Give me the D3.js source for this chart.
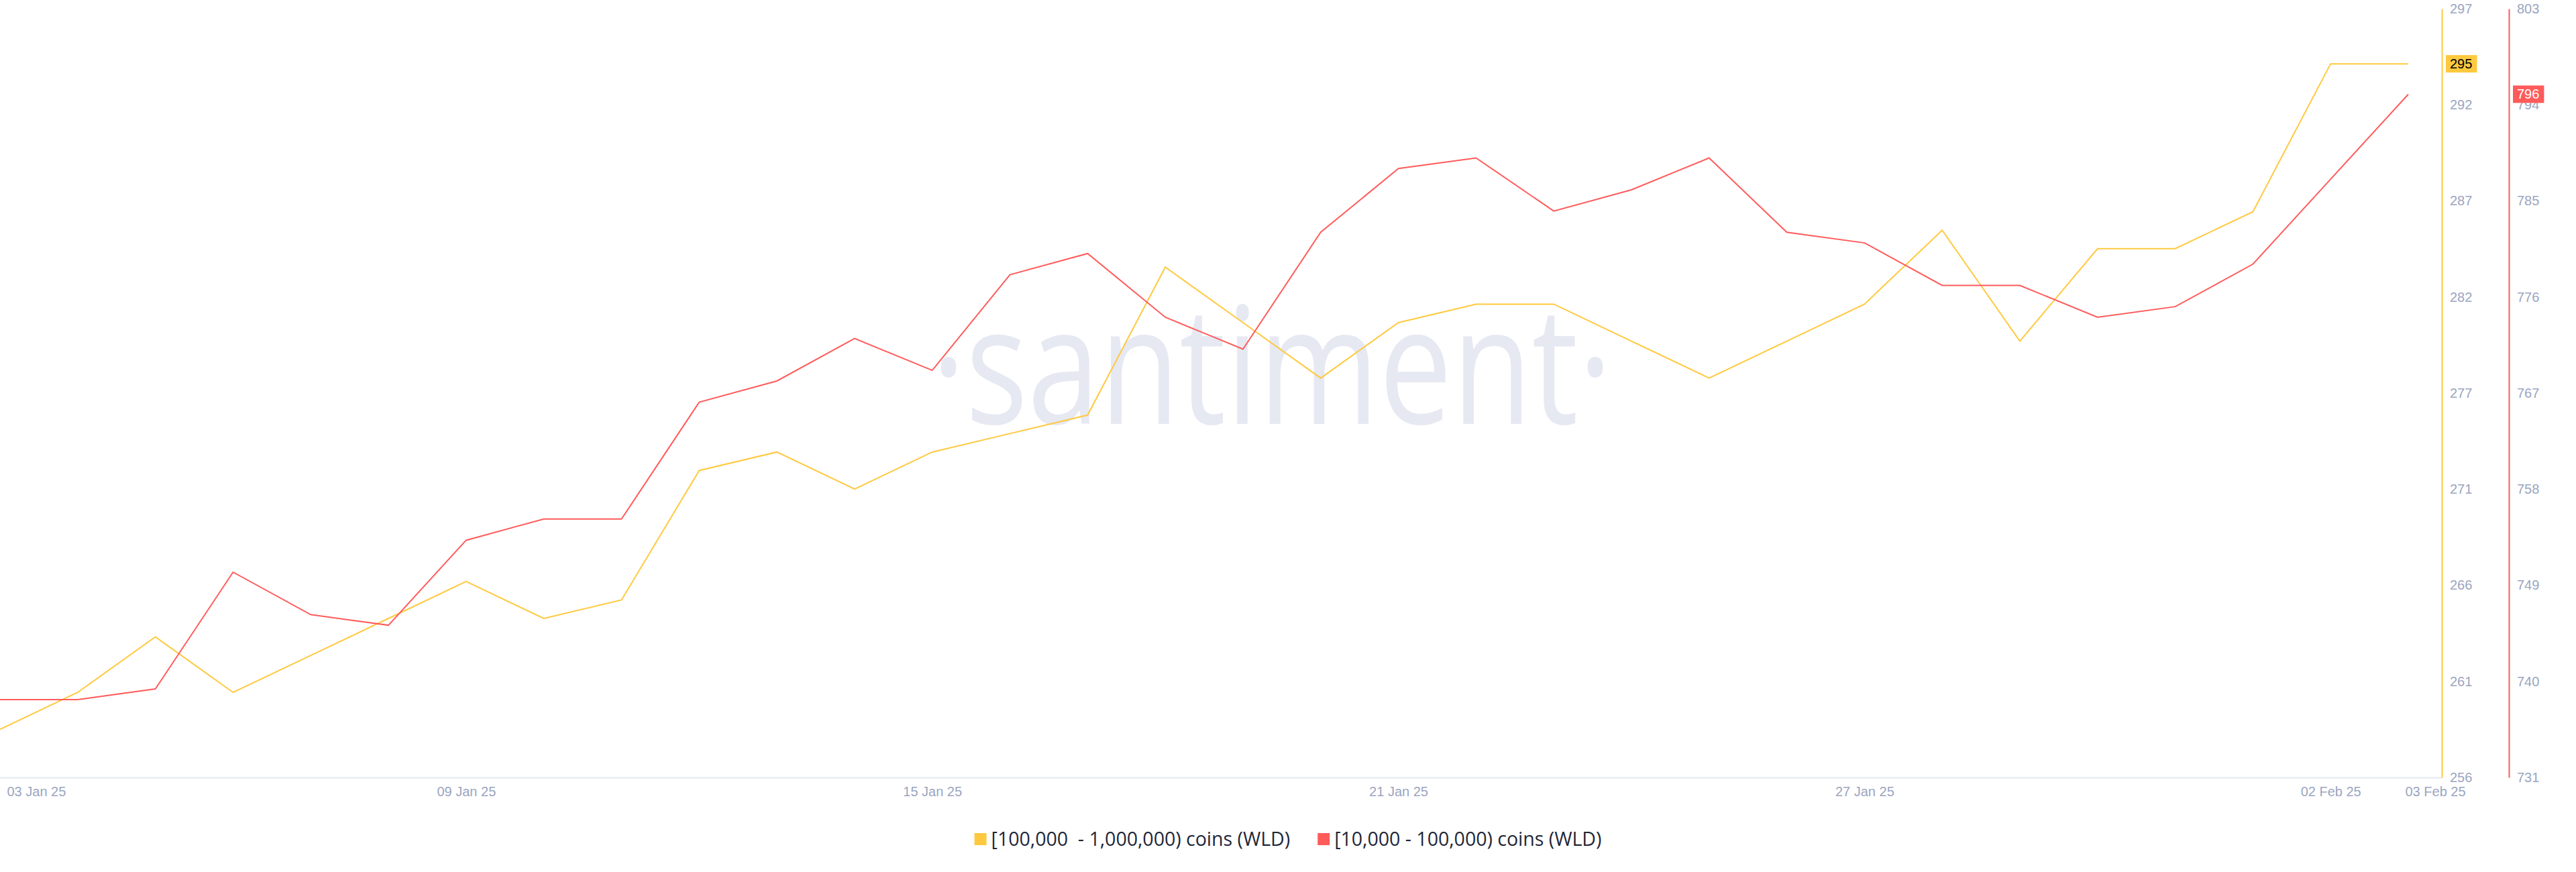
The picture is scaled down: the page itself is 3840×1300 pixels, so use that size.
<!DOCTYPE html>
<html>
<head>
<meta charset="utf-8">
<script src="https://cdn.jsdelivr.net/npm/d3@7"></script>
<style>
  body { margin: 0; background: #ffffff; }
  svg { display: block; }
</style>
</head>
<body>
<svg id="chart" width="3840" height="1300"></svg>
<script>
// ---------------- DATA ----------------
const dates = [
  "2025-01-03","2025-01-04","2025-01-05","2025-01-06","2025-01-07","2025-01-08","2025-01-09","2025-01-10",
  "2025-01-11","2025-01-12","2025-01-13","2025-01-14","2025-01-15","2025-01-16","2025-01-17","2025-01-18",
  "2025-01-19","2025-01-20","2025-01-21","2025-01-22","2025-01-23","2025-01-24","2025-01-25","2025-01-26",
  "2025-01-27","2025-01-28","2025-01-29","2025-01-30","2025-01-31","2025-02-01","2025-02-02","2025-02-03"
];
// [100,000 - 1,000,000) coins (WLD) holders
const holders100kTo1M = [
  259, 261, 264, 261, 263, 265, 267, 265, 266, 273, 274, 272, 274, 275, 276, 284,
  281, 278, 281, 282, 282, 280, 278, 280, 282, 286, 280, 285, 285, 287, 295, 295
];
// [10,000 - 100,000) coins (WLD) holders
const holders10kTo100k = [
  739, 739, 740, 751, 747, 746, 754, 756, 756, 767, 769, 773, 770, 779, 781, 775,
  772, 783, 789, 790, 785, 787, 790, 783, 782, 778, 778, 775, 776, 780, 788, 796
];
const seriesNames = ["[100,000  - 1,000,000) coins (WLD)", "[10,000 - 100,000) coins (WLD)"];
const seriesColors = ["#ffc93f", "#ff5b5b"];

const xTickDates  = ["2025-01-03","2025-01-09","2025-01-15","2025-01-21","2025-01-27","2025-02-02","2025-02-03"];
const xTickLabels = ["03 Jan 25","09 Jan 25","15 Jan 25","21 Jan 25","27 Jan 25","02 Feb 25","03 Feb 25"];

const yDomainYellow = [256.4, 297.98];
const yTickLabelsYellow = ["256","261","266","271","277","282","287","292","297"];
const yDomainRed = [731.67, 804.05];
const yTickLabelsRed = ["731","740","749","758","767","776","785","794","803"];

// ---------------- LAYOUT ----------------
const W = 3840, H = 1300;
const plotLeft = 0, lastPointX = 3590, plotTop = 13, plotBottom = 1159;
const axisYellowX = 3640, axisRedX = 3740;
const tickColor = "#9ba5bf";
const tickFont = "'Liberation Sans', Arial, sans-serif";

const parse = d3.utcParse("%Y-%m-%d");
const dateObjs = dates.map(parse);

const svg = d3.select("#chart");
svg.append("rect").attr("width", W).attr("height", H).attr("fill", "#fff");

const x = d3.scaleUtc().domain([dateObjs[0], dateObjs[dateObjs.length - 1]]).range([plotLeft, lastPointX]);
const yY = d3.scaleLinear().domain(yDomainYellow).range([plotBottom, plotTop]);
const yR = d3.scaleLinear().domain(yDomainRed).range([plotBottom, plotTop]);

// watermark
svg.append("text")
  .attr("x", 1896).attr("y", 632)
  .attr("text-anchor", "middle")
  .attr("font-family", "'Open Sans', 'Noto Sans', sans-serif")
  .attr("font-size", 243)
  .attr("textLength", 1015)
  .attr("lengthAdjust", "spacingAndGlyphs")
  .attr("fill", "#e6e9f2")
  .text("\u00B7santiment\u00B7");

// baseline
svg.append("line")
  .attr("x1", plotLeft).attr("x2", axisYellowX)
  .attr("y1", plotBottom + 0.5).attr("y2", plotBottom + 0.5)
  .attr("stroke", "#e3e8f1").attr("stroke-width", 2);

// x axis
const xTicks = xTickDates.map(parse);
const xAxis = d3.axisBottom(x)
  .tickValues(xTicks)
  .tickFormat((d, i) => xTickLabels[i])
  .tickSize(0).tickPadding(14);
const gx = svg.append("g").attr("transform", `translate(0,${plotBottom})`).call(xAxis);
gx.select(".domain").remove();
gx.selectAll("text")
  .attr("font-family", tickFont).attr("font-size", 20).attr("fill", tickColor);
gx.selectAll(".tick").filter((d, i) => i === 0).select("text")
  .attr("text-anchor", "start").attr("dx", 10);
gx.selectAll(".tick").filter((d, i) => i === xTickLabels.length - 1).select("text")
  .attr("text-anchor", "start").attr("dx", -5);

// right axes
function evenTicks(domain, n) {
  return d3.range(n).map(i => domain[0] + i * (domain[1] - domain[0]) / (n - 1));
}
function drawRightAxis(scale, domain, labels, ax, color) {
  const axis = d3.axisRight(scale)
    .tickValues(evenTicks(domain, labels.length))
    .tickFormat((d, i) => labels[i])
    .tickSize(0).tickSizeOuter(0).tickPadding(12);
  const g = svg.append("g").attr("transform", `translate(${ax},0)`).call(axis);
  g.select(".domain").attr("stroke", color).attr("stroke-width", 2);
  g.selectAll("text")
    .attr("font-family", tickFont).attr("font-size", 20).attr("fill", tickColor);
  return g;
}
drawRightAxis(yY, yDomainYellow, yTickLabelsYellow, axisYellowX, seriesColors[0]);
drawRightAxis(yR, yDomainRed, yTickLabelsRed, axisRedX, seriesColors[1]);

// lines
const series = [
  { values: holders100kTo1M, scale: yY, color: seriesColors[0] },
  { values: holders10kTo100k, scale: yR, color: seriesColors[1] }
];
series.forEach(s => {
  const line = d3.line()
    .x((d, i) => x(dateObjs[i]))
    .y(d => s.scale(d));
  svg.append("path")
    .datum(s.values)
    .attr("d", line)
    .attr("fill", "none")
    .attr("stroke", s.color)
    .attr("stroke-width", 2)
    .attr("stroke-linejoin", "miter");
});

// last-value badges
function badge(value, scale, ax, bg, fg) {
  const yv = scale(value);
  const g = svg.append("g");
  const t = g.append("text")
    .attr("x", ax + 12).attr("y", yv)
    .attr("dy", "0.35em")
    .attr("font-family", tickFont).attr("font-size", 20)
    .attr("fill", fg)
    .text(String(value));
  const w = t.node().getComputedTextLength();
  g.insert("rect", "text")
    .attr("x", ax + 6).attr("y", yv - 13)
    .attr("width", w + 13).attr("height", 26)
    .attr("fill", bg);
}
badge(holders100kTo1M[holders100kTo1M.length - 1], yY, axisYellowX, seriesColors[0], "#000");
badge(holders10kTo100k[holders10kTo100k.length - 1], yR, axisRedX, seriesColors[1], "#fff");

// legend
const legend = svg.append("g");
let cx = 0;
const legendY = 1251;
seriesNames.forEach((name, i) => {
  legend.append("rect")
    .attr("x", cx).attr("y", legendY - 9)
    .attr("width", 18).attr("height", 18)
    .attr("fill", seriesColors[i]);
  const t = legend.append("text")
    .attr("x", cx + 25).attr("y", legendY)
    .attr("dy", "0.35em")
    .attr("font-family", "'Open Sans', 'Noto Sans', sans-serif")
    .attr("font-size", 28.5)
    .attr("fill", "#1f2738")
    .style("white-space", "pre")
    .text(name);
  cx += 25 + t.node().getComputedTextLength() + 41;
});
const legendW = cx - 41;
legend.attr("transform", `translate(${(W - legendW) / 2},0)`);
</script>
</body>
</html>
